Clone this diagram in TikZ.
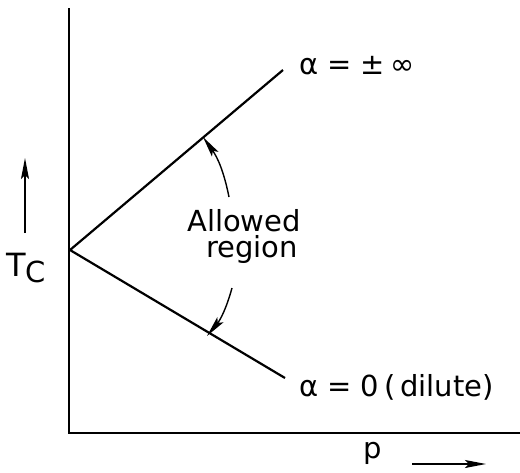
\documentclass[tikz,border=0pt]{standalone}
\usepackage{fontspec}
\setmainfont{DejaVu Sans}
\usetikzlibrary{arrows.meta}
\tikzset{
  lbl/.style = {font=\fontsize{14.5}{16}\selectfont, inner sep=0pt},
  tip/.style = {-{Stealth[length=10.5pt, width=4pt, inset=2pt]}, line width=0.7pt}
}
\begin{document}
\begin{tikzpicture}[x = 0.5pt, y = -0.5pt, line width = 1.1pt]
\useasboundingbox (0,0) rectangle (520,472);
% axes
\coordinate (top) at (69,8);
\coordinate (origin) at (69,433);
\coordinate (right) at (520,433);
\draw (top) -- (origin) -- (right);
% the two bounds
\coordinate (vertex) at (70,250);
\coordinate (upper) at (283,70);
\coordinate (lower) at (285,378);
\draw (vertex) -- (upper);
\draw (vertex) -- (lower);
\node [lbl, anchor = west] (inf) at (298,66) {α = ±\,∞};
\node [lbl, anchor = west] (dil) at (298,387) {α = 0\,(\,dilute)};
% allowed region
\node [lbl, align = center] (region) at (244,236) {Allowed\\[-3pt]\hspace*{8pt}region};
\coordinate (ua) at (229,197);
\coordinate (ub) at (203,137);
\coordinate (la) at (232,288);
\coordinate (lb) at (207,336);
\draw [tip] (ua) to [bend right = 12] (ub);
\draw [tip] (la) to [bend left = 12] (lb);
% axis labels
\node [lbl] (tc) at (26,268) {{\fontsize{16}{16}\selectfont T}\raisebox{-0.4ex}{C}};
\coordinate (tca) at (25,233);
\coordinate (tcb) at (25,158);
\draw [tip] (tca) -- (tcb);
\node [lbl] (p) at (373,453) {p};
\coordinate (pa) at (412,464);
\coordinate (pb) at (486,464);
\draw [tip] (pa) -- (pb);
\end{tikzpicture}
\end{document}
